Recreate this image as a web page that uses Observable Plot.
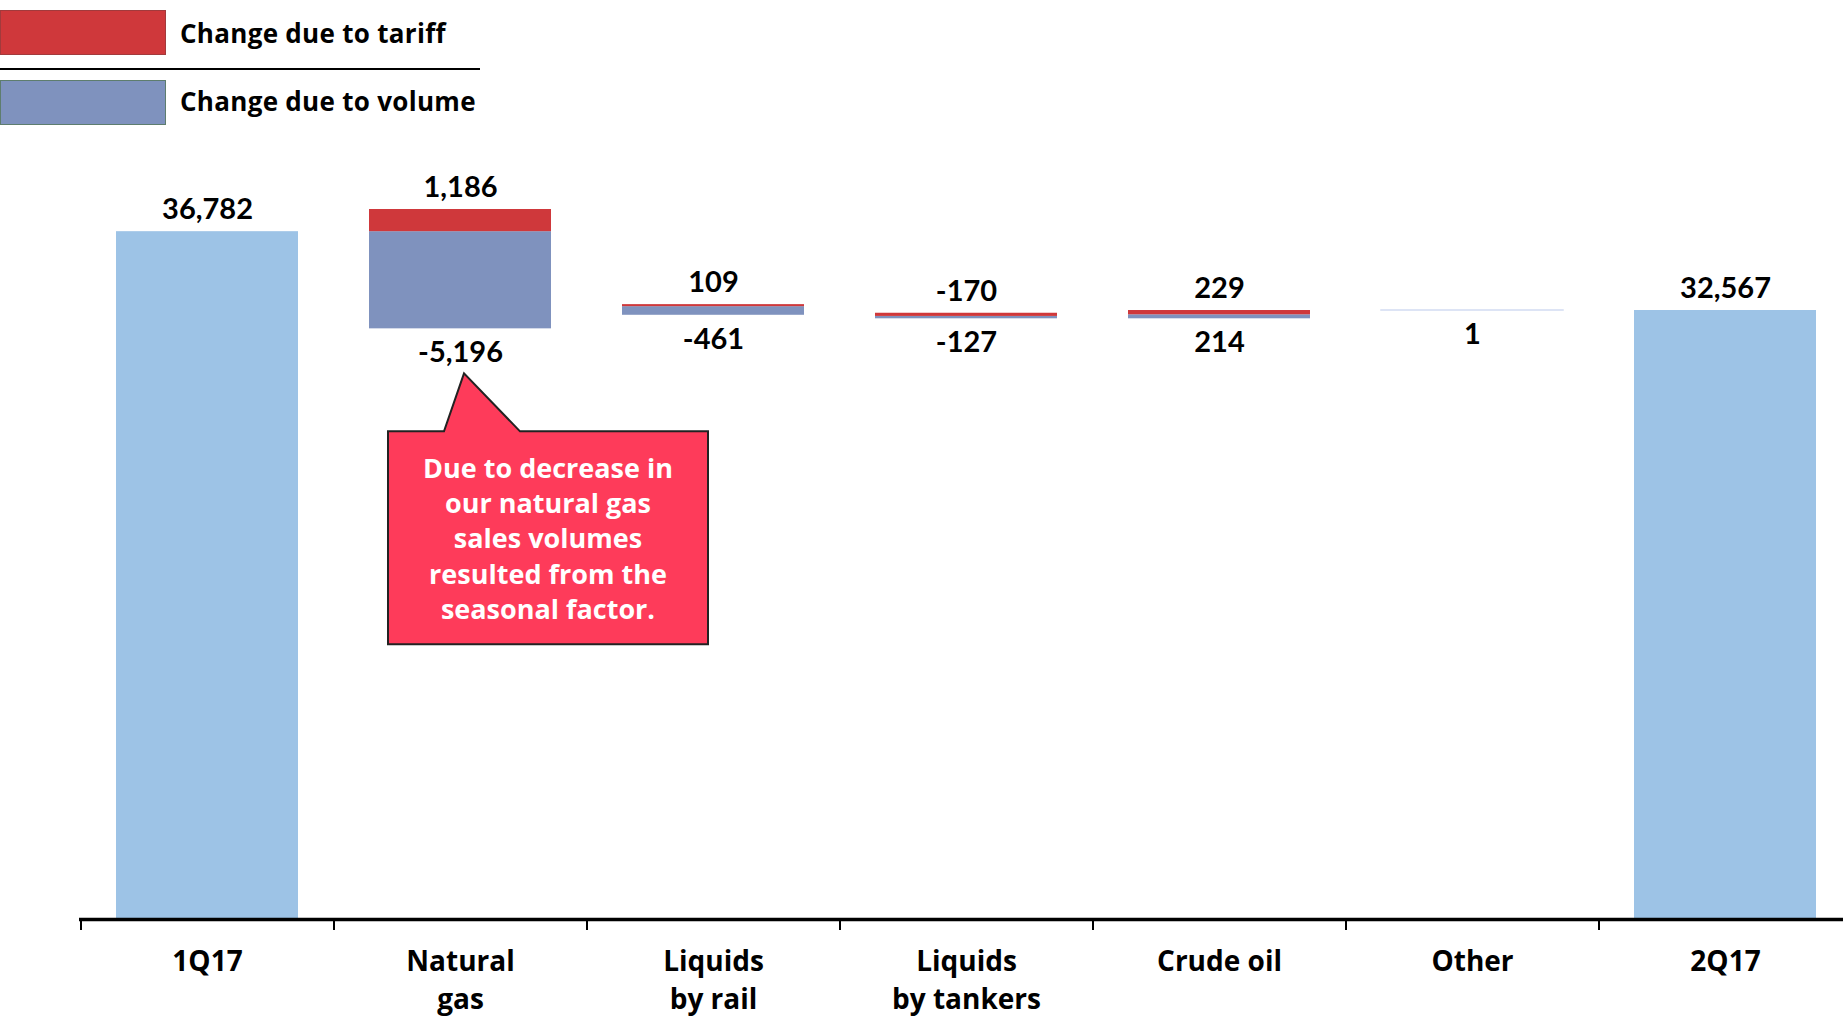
<!DOCTYPE html>
<html>
<head>
<meta charset="utf-8">
<script src="https://cdn.jsdelivr.net/npm/d3@7"></script>
<script src="https://cdn.jsdelivr.net/npm/@observablehq/plot@0.6"></script>
<style>
  html, body { margin: 0; padding: 0; background: #fff; }
  body { width: 1843px; height: 1019px; overflow: hidden; font-family: "Open Sans", Lato, sans-serif; }
  #legend { position: relative; height: 130px; width: 1843px; }
  .lg-row { position: absolute; left: 0; display: flex; align-items: center; }
  .lg-box { width: 166px; height: 45px; box-sizing: border-box; }
  .lg-text { margin-left: 14px; font-size: 26px; font-weight: 700; color: #000; letter-spacing: 0.3px; }
  #lg-sep { position: absolute; left: 0; top: 68px; width: 480px; height: 2px; background: #000; }
  #chart svg { display: block; overflow: hidden; }
</style>
</head>
<body>
<div id="legend">
  <div class="lg-row" style="top:10px"><div class="lg-box" style="background:#cf383b;border:1px solid #a23a3c"></div><div class="lg-text">Change due to tariff</div></div>
  <div id="lg-sep"></div>
  <div class="lg-row" style="top:80px"><div class="lg-box" style="background:#7f92be;border:1px solid #5e7d6e"></div><div class="lg-text" style="margin-top:-4px">Change due to volume</div></div>
</div>
<div id="chart"></div>
<script>
// ---- data ----
const categories = ["1Q17", "Natural gas", "Liquids by rail", "Liquids by tankers", "Crude oil", "Other", "2Q17"];
const tickLabels = ["1Q17", "Natural\ngas", "Liquids\nby rail", "Liquids\nby tankers", "Crude oil", "Other", "2Q17"];
const startLabel = "1Q17";
const startTotal = 36782;
const endLabel = "2Q17";
const endTotal = 32567;
const driverCategories = ["Natural gas", "Liquids by rail", "Liquids by tankers", "Crude oil"];
const tariffChange = [1186, 109, -170, 229];
const volumeChange = [-5196, -461, -127, 214];
const otherLabel = "Other";
const otherChange = 1;
const calloutCategory = "Natural gas";
const calloutLines = ["Due to decrease in", "our natural gas", "sales volumes", "resulted from the", "seasonal factor."];

// ---- build waterfall segments ----
const fmt = n => n.toLocaleString("en-US");
const segments = [];
const topLabels = [];
const bottomLabels = [];
let running = startTotal;
segments.push({cat: startLabel, y1: 0, y2: startTotal, series: "total"});
topLabels.push({cat: startLabel, y: startTotal, text: fmt(startTotal)});
driverCategories.forEach((cat, i) => {
  const t = tariffChange[i], v = volumeChange[i], s = running;
  // red always sits above blue: negatives go down (tariff first), positives go up (volume first)
  let up = s, down = s;
  let red, blue;
  if (t < 0) { red = [s + t, s]; down = s + t; }
  if (v < 0) { blue = [down + v, down]; down = down + v; }
  if (v >= 0) { blue = [up, up + v]; up = up + v; }
  if (t >= 0) { red = [up, up + t]; up = up + t; }
  segments.push({cat, y1: blue[0], y2: blue[1], series: "volume"});
  segments.push({cat, y1: red[0], y2: red[1], series: "tariff"});
  topLabels.push({cat, y: Math.max(red[1], blue[1]), text: fmt(t)});
  bottomLabels.push({cat, y: Math.min(red[0], blue[0]), text: fmt(v)});
  running = s + t + v;
});
const otherSeg = {cat: otherLabel, y1: running, y2: running + otherChange, series: "other"};
bottomLabels.push({cat: otherLabel, y: running, text: fmt(otherChange)});
running += otherChange;
segments.push({cat: endLabel, y1: 0, y2: endTotal, series: "total"});
topLabels.push({cat: endLabel, y: endTotal, text: fmt(endTotal)});
const calloutAnchor = bottomLabels.find(d => d.cat === calloutCategory);

const colors = {total: "#9dc3e6", tariff: "#cf383b", volume: "#7f92be", other: "#d3dcf2"};

// callout mark drawn through the scales
function callout(index, scales, values, dimensions, context) {
  const cx = scales.x(calloutAnchor.cat) + scales.x.bandwidth() / 2;
  const ty = scales.y(calloutAnchor.y) + 45;
  const boxL = cx - 72, boxR = cx + 248, boxT = ty + 58, boxB = ty + 271;
  const g = d3.create("svg:g");
  const path = [
    [boxL, boxT], [cx - 16, boxT], [cx + 4, ty], [cx + 60, boxT], [boxR, boxT],
    [boxR, boxB], [boxL, boxB]
  ];
  g.append("path")
    .attr("d", "M" + path.map(p => p.join(",")).join("L") + "Z")
    .attr("fill", "#fe3b5a").attr("stroke", "#222").attr("stroke-width", 2);
  const midX = (boxL + boxR) / 2;
  calloutLines.forEach((line, i) => {
    g.append("text")
      .attr("x", midX).attr("y", boxT + 36 + i * 35.3)
      .attr("text-anchor", "middle").attr("dominant-baseline", "central")
      .attr("fill", "#fff").attr("font-size", 27).attr("font-weight", 700)
      .attr("font-family", "'Open Sans', Lato, sans-serif")
      .text(line);
  });
  return g.node();
}

const chart = Plot.plot({
  width: 1843,
  height: 889,
  marginLeft: 79,
  marginRight: -10,
  marginTop: 41,
  marginBottom: 100,
  style: {fontFamily: "Lato, 'Open Sans', sans-serif", background: "#fff", color: "#000"},
  x: {domain: categories, paddingInner: 0.28, paddingOuter: 0.14, axis: null},
  y: {domain: [0, 40000], axis: null},
  marks: [
    Plot.barY(segments, {x: "cat", y1: "y1", y2: "y2", fill: d => colors[d.series]}),
    Plot.barY([otherSeg], {x: "cat", y1: "y1", y2: "y2", fill: colors.other, stroke: colors.other, strokeWidth: 1.5}),
    Plot.text(topLabels, {x: "cat", y: "y", text: "text", dy: -22, fontSize: 29, fontWeight: 700, lineAnchor: "middle", fill: "#000"}),
    Plot.text(bottomLabels, {x: "cat", y: "y", text: "text", dy: 24, fontSize: 29, fontWeight: 700, lineAnchor: "middle", fill: "#000"}),
    Plot.ruleY([0], {stroke: "#000", strokeWidth: 3.5}),
    Plot.axisX({tickSize: 11, dx: -126.5, tickFormat: () => "", label: null, strokeWidth: 2, stroke: "#000"}),
    Plot.axisX({tickSize: 0, tickPadding: 25, label: null, tickFormat: (d) => tickLabels[categories.indexOf(d)], fontSize: 28, fontWeight: 700, lineHeight: 1.34, fill: "#000", fontFamily: "'Open Sans', Lato, sans-serif"}),
    callout
  ]
});
document.getElementById("chart").appendChild(chart);
</script>
</body>
</html>
